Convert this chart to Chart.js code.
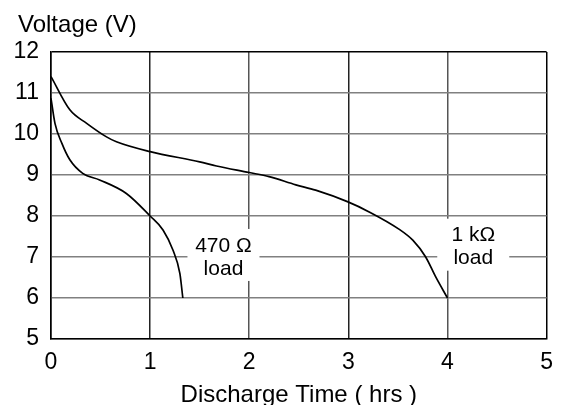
<!DOCTYPE html>
<html>
<head>
<meta charset="utf-8">
<script src="https://cdn.jsdelivr.net/npm/chart.js@4/dist/chart.umd.min.js"></script>
<style>
  body { margin: 0; background: #fff; }
  #wrap { width: 563px; height: 405px; }
</style>
</head>
<body>
<div id="wrap"><canvas id="discharge-chart" width="563" height="405"></canvas></div>
<script>
// Discharge curves (time in hrs, voltage in V)
const load1kTime = [0, 0.19, 0.36, 0.56, 0.66, 1.0, 1.5, 1.67, 2.0, 2.2, 2.47, 2.67, 2.99, 3.21, 3.51, 3.65, 3.78, 3.88, 4.0];
const load1kVolts = [11.4, 10.59, 10.26, 9.93, 9.81, 9.57, 9.32, 9.22, 9.06, 8.96, 8.76, 8.63, 8.35, 8.1, 7.68, 7.41, 7.0, 6.52, 6.0];

const load470Time = [0, 0.04, 0.11, 0.19, 0.32, 0.49, 0.76, 1.0, 1.13, 1.23, 1.3, 1.33];
const load470Volts = [10.87, 10.26, 9.77, 9.37, 9.04, 8.88, 8.55, 8.0, 7.66, 7.17, 6.6, 6.0];

const xTicks = [0, 1, 2, 3, 4, 5];
const yTicks = [5, 6, 7, 8, 9, 10, 11, 12];

// curve labels: text lines and where they sit (data coords)
const labelLines = [['470 \u03A9', 'load'], ['1 k\u03A9', 'load']];
const labelTime = [1.74, 4.26];
const labelVolts = [7.05, 7.3];

const FONT = '"Liberation Sans", Arial, sans-serif';

const toPoints = (xs, ys) => xs.map((x, i) => ({ x: x, y: ys[i] }));

const overlayPlugin = {
    id: 'overlay',
    afterDatasetsDraw(chart) {
        const ctx = chart.ctx;
        const xs = chart.scales.x, ys = chart.scales.y;
        ctx.save();
        labelLines.forEach((lines, i) => {
            const cx = xs.getPixelForValue(labelTime[i]);
            const cy = ys.getPixelForValue(labelVolts[i]);
            ctx.fillStyle = '#fff';
            ctx.fillRect(cx - 36, cy - 26, 72, 52);
            ctx.fillStyle = '#000';
            ctx.font = '21px ' + FONT;
            ctx.textAlign = 'center';
            ctx.textBaseline = 'middle';
            ctx.fillText(lines[0], cx, cy - 9);
            ctx.fillText(lines[1], cx, cy + 14);
        });
        // y axis header above the plot
        ctx.font = '24px ' + FONT;
        ctx.textAlign = 'left';
        ctx.textBaseline = 'alphabetic';
        ctx.fillStyle = '#000';
        ctx.fillText('Voltage (V)', chart.chartArea.left - 33, 32);
        ctx.restore();
    }
};

const xGridColors = ['#000', '#222', '#555', '#222', '#555', '#000'];

new Chart(document.getElementById('discharge-chart'), {
    type: 'scatter',
    data: {
        datasets: [
            {
                label: '1 k\u03A9 load',
                data: toPoints(load1kTime, load1kVolts),
                showLine: true,
                borderColor: '#000',
                borderWidth: 1.7,
                pointRadius: 0,
                cubicInterpolationMode: 'monotone',
                fill: false
            },
            {
                label: '470 \u03A9 load',
                data: toPoints(load470Time, load470Volts),
                showLine: true,
                borderColor: '#000',
                borderWidth: 1.7,
                pointRadius: 0,
                cubicInterpolationMode: 'monotone',
                fill: false
            }
        ]
    },
    options: {
        responsive: false,
        animation: false,
        layout: { padding: { left: 0, right: 16, top: 52, bottom: 0 } },
        plugins: {
            legend: { display: false },
            tooltip: { enabled: false }
        },
        scales: {
            x: {
                type: 'linear',
                min: xTicks[0],
                max: xTicks[xTicks.length - 1],
                afterBuildTicks: (scale) => { scale.ticks = xTicks.map(v => ({ value: v })); },
                afterFit: (scale) => { scale.height = 66; },
                ticks: {
                    color: '#000',
                    padding: 10,
                    font: { family: FONT, size: 23 }
                },
                grid: {
                    drawTicks: false,
                    lineWidth: 1.5,
                    color: (c) => xGridColors[c.index] || '#555'
                },
                border: { color: '#000', width: 1.5 },
                title: {
                    display: true,
                    text: 'Discharge Time ( hrs )',
                    color: '#000',
                    padding: { top: 0, bottom: -5 },
                    font: { family: FONT, size: 24 }
                }
            },
            y: {
                min: yTicks[0],
                max: yTicks[yTicks.length - 1],
                afterBuildTicks: (scale) => { scale.ticks = yTicks.map(v => ({ value: v })); },
                afterFit: (scale) => { scale.width = 51; },
                ticks: {
                    color: '#000',
                    padding: 12,
                    font: { family: FONT, size: 23 }
                },
                grid: {
                    drawTicks: false,
                    lineWidth: 1.5,
                    color: (c) => (c.tick && c.tick.value === 12) ? '#000' : '#808080'
                },
                border: { color: '#000', width: 1.5 }
            }
        }
    },
    plugins: [overlayPlugin]
});
</script>
</body>
</html>
